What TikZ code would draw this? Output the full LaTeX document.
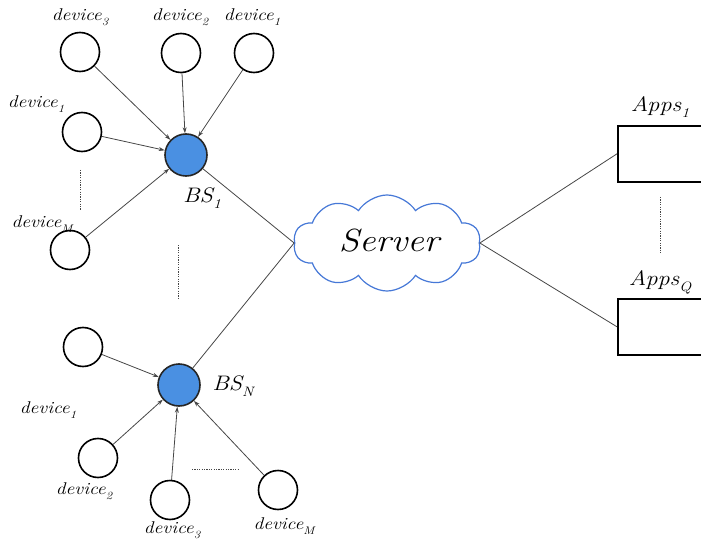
\documentclass[tikz,border=0pt]{standalone}
\usepackage{graphicx}
\usetikzlibrary{shapes.symbols,arrows.meta}
\definecolor{bsblue}{RGB}{74,144,226}
\definecolor{cloudblue}{RGB}{70,120,215}
\definecolor{linegray}{RGB}{70,70,70}
\newcommand{\wtxt}[2]{\scalebox{1.15}[1]{\itshape #1\raisebox{-0.28em}{\scalebox{0.65}{#2}}}}
\tikzset{
  dev/.style={circle,draw=black,line width=1.6pt,minimum size=39pt,inner sep=0pt,fill=white},
  bs/.style={circle,draw=black!85,line width=1.6pt,minimum size=42pt,inner sep=0pt,fill=bsblue},
  devlbl/.style={font=\fontsize{17}{20}\selectfont,inner sep=0pt},
  biglbl/.style={font=\fontsize{21}{24}\selectfont,inner sep=0pt},
  uplink/.style={draw=linegray,line width=0.8pt,-{Stealth[length=6pt,width=4pt]}},
  link/.style={draw=linegray,line width=0.8pt},
  dots/.style={draw=linegray,line width=0.8pt,dash pattern=on 1.2pt off 1.2pt},
  appbox/.style={draw=black,line width=1.6pt,minimum width=100pt,minimum height=56pt,inner sep=0pt,anchor=north west}
}
\begin{document}
\begin{tikzpicture}[x=1pt,y=-1pt]
\useasboundingbox (0,0) rectangle (701,540);
\clip (0,0) rectangle (701,540);
% top cluster
\node[bs] (bs1) at (186,155) {};
\node[dev] (t3) at (80,52) {};
\node[dev] (t2) at (181,53) {};
\node[dev] (t1) at (254,53) {};
\node[dev] (l1) at (82,132) {};
\node[dev] (lm) at (70,250) {};
\node[devlbl] (t3l) at (80,17) {\wtxt{device}{3}};
\node[devlbl] (t2l) at (180,17) {\wtxt{device}{2}};
\node[devlbl] (t1l) at (252,17) {\wtxt{device}{1}};
\node[devlbl] (l1l) at (36,104) {\wtxt{device}{1}};
\node[devlbl] (lml) at (42,224) {\wtxt{device}{M}};
\node[biglbl] (bs1l) at (202,198) {\wtxt{BS}{1}};
\draw[uplink] (t3) -- (bs1);
\draw[uplink] (t2) -- (bs1);
\draw[uplink] (t1) -- (bs1);
\draw[uplink] (l1) -- (bs1);
\draw[uplink] (lm) -- (bs1);
\draw[dots] (80,170) -- (80,210);
\draw[dots] (178,245) -- (178,300);
% bottom cluster
\node[bs] (bsn) at (179,385) {};
\node[dev] (b1) at (83,347) {};
\node[dev] (b2) at (98,458) {};
\node[dev] (b3) at (170,500) {};
\node[dev] (bm) at (278,490) {};
\node[devlbl] (b1l) at (48,410) {\wtxt{device}{1}};
\node[devlbl] (b2l) at (84,491) {\wtxt{device}{2}};
\node[devlbl] (b3l) at (172,530) {\wtxt{device}{3}};
\node[devlbl] (bml) at (284,526) {\wtxt{device}{M}};
\node[biglbl] (bsnl) at (233,386) {\wtxt{BS}{N}};
\draw[uplink] (b1) -- (bsn);
\draw[uplink] (b2) -- (bsn);
\draw[uplink] (b3) -- (bsn);
\draw[uplink] (bm) -- (bsn);
\draw[dots] (192,469) -- (238,469);
% server
\node[cloud,draw=cloudblue,line width=1.2pt,fill=white,cloud puffs=10,cloud puff arc=115,aspect=2,minimum width=187pt,minimum height=96pt,inner sep=0pt] (srv) at (387,243) {};
\node[font=\fontsize{32}{36}\selectfont,inner sep=0pt] (srvl) at (389,245) {\wtxt{Server}{}};
\draw[link] (bs1) -- (srv.west);
\draw[link] (bsn) -- (srv.west);
% apps
\node[appbox] (app1) at (617,125) {};
\node[appbox] (appq) at (617,298) {};
\node[biglbl] (app1l) at (660,107) {\wtxt{Apps}{1}};
\node[biglbl] (appql) at (660,282) {\wtxt{Apps}{Q}};
\draw[link] (srv.east) -- (app1.west);
\draw[link] (srv.east) -- (appq.west);
\draw[dots] (660,197) -- (660,253);
\end{tikzpicture}
\end{document}
